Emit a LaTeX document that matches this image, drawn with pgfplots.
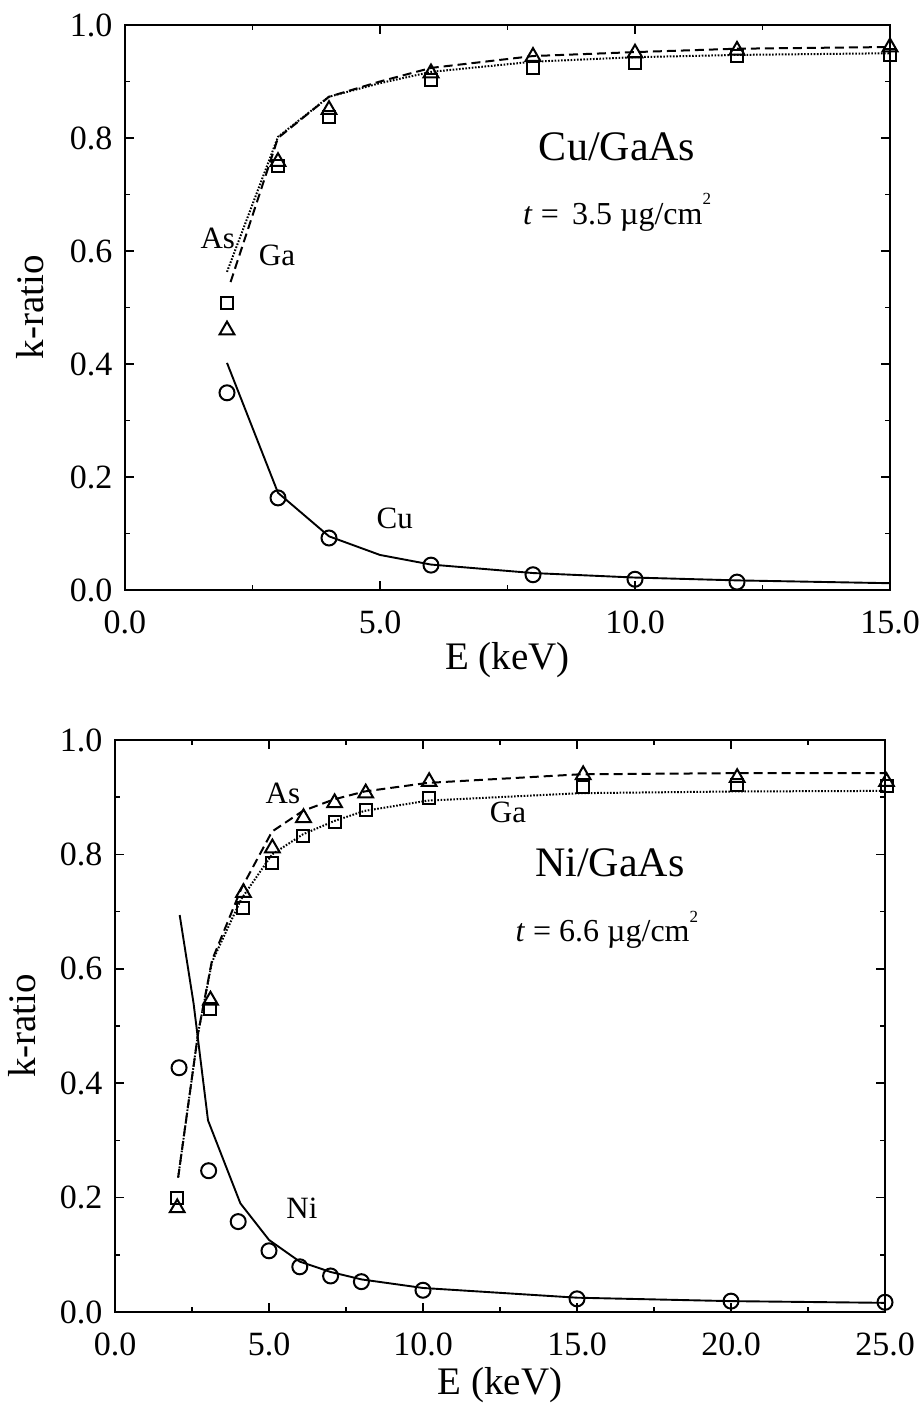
\documentclass[border=0pt]{standalone}
\usepackage{fontspec}
\setmainfont{Liberation Serif}
\usepackage{pgfplots}
\pgfplotsset{compat=1.18}
\pgfplotsset{
  kstyle/.style={
    scale only axis,
    clip=false,
    axis line style={line width=2.3pt},
    tick align=inside,
    major tick length=9pt,
    minor tick length=5pt,
    every tick/.style={black, line width=1.6pt},
    minor tick num=1,
    ymin=0, ymax=1,
    ytick={0,0.2,0.4,0.6,0.8,1.0},
    scaled ticks=false,
    /pgf/number format/assume math mode=true,
    xticklabel style={/pgf/number format/fixed, /pgf/number format/fixed zerofill, /pgf/number format/precision=1, yshift=-17pt},
    yticklabel style={/pgf/number format/fixed, /pgf/number format/fixed zerofill, /pgf/number format/precision=1, xshift=-9pt},
    tick label style={font=\fontsize{34}{36}\selectfont},
    label style={font=\fontsize{39}{44}\selectfont},
    xlabel={E (keV)},
    ylabel={k-ratio},
  },
  calc/.style={line width=1.9pt, no markers},
  dotl/.style={line width=2pt, no markers, dash pattern=on 1.6pt off 1.6pt},
  dashl/.style={line width=2pt, no markers, dash pattern=on 9pt off 5pt},
  circ/.style={only marks, mark=o, mark size=7.5pt, mark options={line width=2pt, fill=white}},
  sq/.style={only marks, mark=square, mark size=6pt, mark options={line width=2pt}},
  tri/.style={only marks, mark=triangle, mark size=8.5pt, mark options={line width=2pt}},
}
\tikzset{lbl/.style={font=\fontsize{31}{34}\selectfont}}
\newcommand{\sqr}{\raisebox{0.62em}{\fontsize{17}{18}\selectfont 2}}
\begin{document}
\begin{tikzpicture}
\path[use as bounding box] (0pt,0pt) rectangle (919pt,1405pt);

% ---------------- Top: Cu/GaAs ----------------
\begin{axis}[kstyle,
  at={(125pt,815pt)}, anchor=south west,
  width=765pt, height=565pt,
  xmin=0, xmax=15, xtick={0,5,10,15},
  xlabel style={at={(axis description cs:0.5,-0.124)}, anchor=center},
  ylabel style={at={(axis description cs:-0.124,0.5)}, anchor=center},
]
% Cu calculated
\addplot[calc] coordinates {(2,0.402) (3,0.172) (4,0.095) (5,0.062) (6,0.045) (8,0.030) (10,0.022) (12,0.017) (15,0.012)};
% Ga / As calculated
\addplot[dotl] coordinates {(2,0.563) (3,0.802) (4,0.873) (5,0.897) (6,0.917) (8,0.935) (10,0.943) (12,0.947) (15,0.950)};
\addplot[dashl] coordinates {(2.07,0.545) (3,0.80) (4,0.873) (5,0.900) (6,0.924) (8,0.945) (10,0.952) (12,0.958) (15,0.961)};
% measured
\addplot[circ] coordinates {(2,0.349) (3,0.163) (4,0.092) (6,0.044) (8,0.027) (10,0.019) (12,0.014)};
\addplot[sq] coordinates {(2,0.508) (3,0.750) (4,0.837) (6,0.903) (8,0.924) (10,0.933) (12,0.945) (15,0.947)};
\addplot[tri] coordinates {(2,0.460) (3,0.758) (4,0.850) (6,0.915) (8,0.944) (10,0.950) (12,0.955) (15,0.961)};
\node[lbl] at (axis cs:1.82,0.623) {As};
\node[lbl] at (axis cs:2.98,0.593) {Ga};
\node[lbl] at (axis cs:5.29,0.127) {Cu};
\node[font=\fontsize{42}{46}\selectfont] at (axis cs:9.65,0.784) {Cu/GaAs};
\node[font=\fontsize{32}{36}\selectfont] at (axis cs:9.65,0.669) {\textit{t} =\, 3.5 µg/cm\sqr};
\end{axis}

% ---------------- Bottom: Ni/GaAs ----------------
\begin{axis}[kstyle,
  at={(115pt,93pt)}, anchor=south west,
  width=770pt, height=572pt,
  xmin=0, xmax=25, xtick={0,5,10,15,20,25},
  xlabel style={at={(axis description cs:0.5,-0.128)}, anchor=center},
  ylabel style={at={(axis description cs:-0.121,0.5)}, anchor=center},
]
% Ni calculated
\addplot[calc] coordinates {(2.1,0.694) (2.55,0.54) (3.02,0.335) (4.07,0.190) (5,0.126) (6,0.088) (7,0.070) (8,0.057) (10,0.042) (15,0.025) (20,0.019) (25,0.016)};
% Ga (dotted) and As (dashed) calculated
\addplot[dotl] coordinates {(2.05,0.235) (2.7,0.488) (3.15,0.612) (4.1,0.722) (5.1,0.800) (6.1,0.835) (7.1,0.858) (8.1,0.876) (10.15,0.894) (15.1,0.907) (20.1,0.910) (25,0.911)};
\addplot[dashl] coordinates {(2.05,0.235) (2.7,0.488) (3.15,0.615) (4.1,0.740) (5.1,0.840) (6.1,0.876) (7.1,0.896) (8.1,0.910) (10.15,0.925) (15.1,0.940) (20.1,0.942) (25,0.942)};
% measured
\addplot[circ] coordinates {(2.08,0.427) (3.04,0.247) (4,0.158) (5,0.107) (6,0.079) (7,0.063) (8,0.053) (10,0.038) (15,0.023) (20,0.019) (25,0.017)};
\addplot[sq] coordinates {(2.02,0.200) (3.1,0.530) (4.17,0.706) (5.11,0.785) (6.12,0.832) (7.13,0.857) (8.14,0.878) (10.2,0.899) (15.2,0.918) (20.2,0.921) (25.05,0.920)};
\addplot[tri] coordinates {(2.02,0.182) (3.1,0.545) (4.17,0.733) (5.11,0.811) (6.12,0.864) (7.13,0.890) (8.14,0.907) (10.2,0.927) (15.2,0.939) (20.2,0.934) (25.05,0.927)};
\node[lbl] at (axis cs:5.45,0.907) {As};
\node[lbl] at (axis cs:12.76,0.874) {Ga};
\node[lbl] at (axis cs:6.07,0.182) {Ni};
\node[font=\fontsize{42}{46}\selectfont] at (axis cs:16.07,0.785) {Ni/GaAs};
\node[font=\fontsize{32}{36}\selectfont] at (axis cs:15.97,0.668) {\textit{t} = 6.6 µg/cm\sqr};
\end{axis}
\end{tikzpicture}
\end{document}
